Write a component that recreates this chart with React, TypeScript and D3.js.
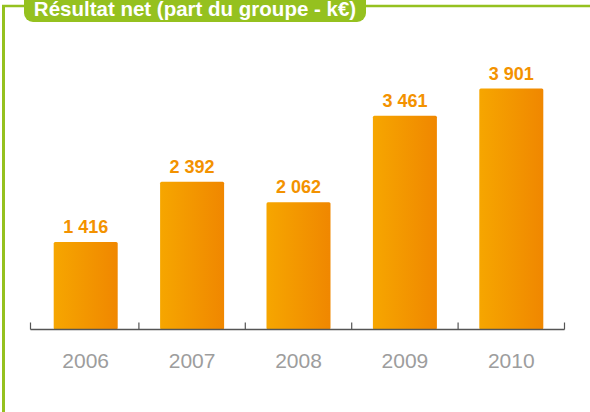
import React from "react";
import * as d3 from "d3";

const years = ["2006", "2007", "2008", "2009", "2010"];
const values = [1416, 2392, 2062, 3461, 3901];
const labels = ["1 416", "2 392", "2 062", "3 461", "3 901"];
const title = "Résultat net (part du groupe - k€)";

const W = 590;
const H = 412;

export default function App() {
  const x = d3.scaleBand<string>().domain(years).range([32.5, 564.5]).paddingInner(0).paddingOuter(0);
  const y = d3.scaleLinear().domain([0, 4000]).range([329.5, 82.5]);
  const bw = 64;
  const green = "#95c11f";
  const orange = "#f39200";
  const ticks = [30.5, ...years.map((d) => (x(d) as number) + x.bandwidth())];
  return (
    <svg width={W} height={H} style={{ position: "absolute", left: 0, top: 0, background: "#fff" }}>
      <defs>
        <linearGradient id="barG" x1="0" x2="1" y1="0" y2="0">
          <stop offset="0" stopColor="#f6a600" />
          <stop offset="1" stopColor="#f08700" />
        </linearGradient>
      </defs>
      {/* frame */}
      <line x1={3.5} x2={3.5} y1={5} y2={H} stroke={green} strokeWidth={3} />
      <line x1={2} x2={W} y1={6} y2={6} stroke={green} strokeWidth={2.5} />
      <rect x={24} y={-12} width={342} height={34} rx={9} fill={green} />
      <text
        x={195}
        y={16}
        textAnchor="middle"
        fill="#fff"
        fontFamily="Liberation Sans, Arial, sans-serif"
        fontWeight="bold"
        fontSize={20.5}
      >
        {title}
      </text>
      {/* bars */}
      {years.map((d, i) => {
        const cx = (x(d) as number) + x.bandwidth() / 2;
        return (
          <g key={d}>
            <rect x={cx - bw / 2} y={y(values[i])} width={bw} height={y(0) - y(values[i])} rx={1.5} fill="url(#barG)" />
            <text
              x={cx}
              y={y(values[i]) - 9}
              textAnchor="middle"
              fill={orange}
              fontFamily="Liberation Sans, Arial, sans-serif"
              fontWeight="bold"
              fontSize={18}
            >
              {labels[i]}
            </text>
            <text
              x={cx}
              y={368}
              textAnchor="middle"
              fill="#9d9d9d"
              fontFamily="Liberation Sans, Arial, sans-serif"
              fontSize={21}
            >
              {d}
            </text>
          </g>
        );
      })}
      {/* axis */}
      <line x1={ticks[0]} x2={ticks[ticks.length - 1]} y1={y(0)} y2={y(0)} stroke="#555" strokeWidth={1.5} />
      {ticks.map((t, i) => (
        <line key={i} x1={t} x2={t} y1={y(0)} y2={y(0) - 7} stroke="#555" strokeWidth={1.2} />
      ))}
    </svg>
  );
}
